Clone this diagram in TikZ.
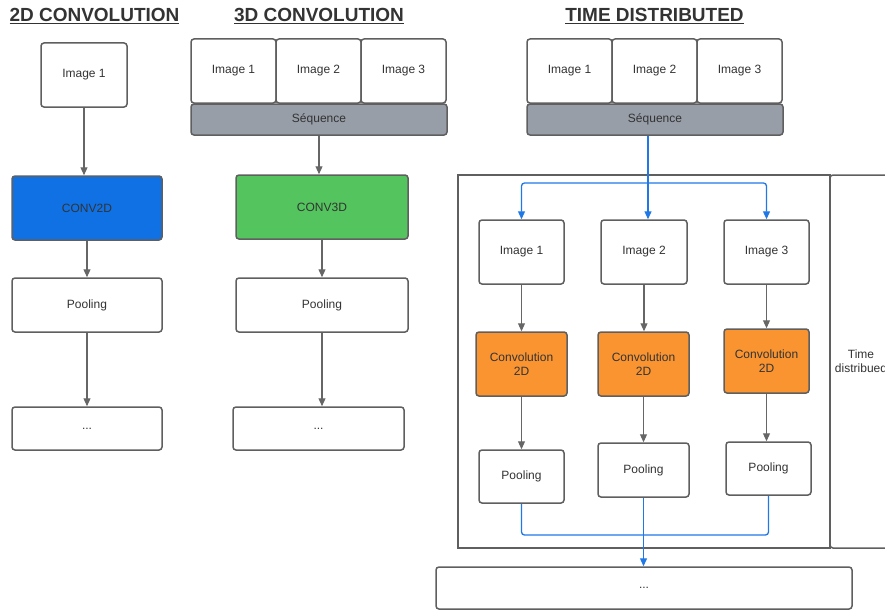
\documentclass[tikz,border=0pt]{standalone}
\usepackage{fontspec}
\setmainfont{Liberation Sans}
\usetikzlibrary{arrows.meta}
\definecolor{bordergray}{HTML}{5F5F5F}
\definecolor{txt}{HTML}{333333}
\definecolor{c2dblue}{HTML}{1071E5}
\definecolor{c3dgreen}{HTML}{54C45E}
\definecolor{convorange}{HTML}{F99431}
\definecolor{seqgray}{HTML}{979EA8}
\definecolor{linkblue}{HTML}{1F78E6}
\definecolor{arrowgray}{HTML}{666666}
\begin{document}
\begin{tikzpicture}[x=1pt,y=-1pt,
  box/.style={draw=bordergray, line width=1.5pt, rounded corners=3pt, fill=white,
    text=txt, font=\fontsize{12}{14}\selectfont, inner sep=0pt, align=center},
  ttl/.style={text=txt, font=\fontsize{19}{22}\selectfont\bfseries, inner sep=0pt},
  garrow/.style={draw=arrowgray, line width=1.1pt, -{Triangle[length=8pt,width=7pt]}},
  barrow/.style={draw=linkblue, line width=1.3pt, rounded corners=3pt, -{Triangle[length=8pt,width=7pt]}},
  bline/.style={draw=linkblue, line width=1.3pt, rounded corners=3pt}]
\useasboundingbox (0,0) rectangle (885,610);
\clip (0,0) rectangle (885,610);

% titles
\node[ttl] (t2dtitle) at (94.5,16) {\underline{2D CONVOLUTION}};
\node[ttl] (t3dtitle) at (319,16) {\underline{3D CONVOLUTION}};
\node[ttl] (tdtitle) at (654.5,16) {\underline{TIME DISTRIBUTED}};

% 2D column
\node[box, minimum width=86, minimum height=64] (i2d) at (84,75) {Image 1};
\node[box, fill=c2dblue, minimum width=150, minimum height=64] (c2d) at (87,208) {CONV2D};
\node[box, minimum width=150, minimum height=54] (p2d) at (87,305) {Pooling};
\node[box, minimum width=150, minimum height=43] (d2d) at (87,428.5) {...};
\draw[garrow] (i2d.south) -- (i2d.south |- c2d.north);
\draw[garrow] (c2d.south) -- (p2d.north);
\draw[garrow] (p2d.south) -- (d2d.north);

% 3D column
\node[box, minimum width=85, minimum height=64] (a1) at (233.5,71) {Image 1};
\node[box, minimum width=85, minimum height=64] (a2) at (318.5,71) {Image 2};
\node[box, minimum width=85, minimum height=64] (a3) at (403.5,71) {Image 3};
\node[box, fill=seqgray, minimum width=256, minimum height=31] (s3d) at (319,119.5) {Séquence};
\node[box, fill=c3dgreen, minimum width=172, minimum height=64] (c3d) at (322,207) {CONV3D};
\node[box, minimum width=172, minimum height=54] (p3d) at (322,305) {Pooling};
\node[box, minimum width=171, minimum height=43] (d3d) at (318.5,428.5) {...};
\draw[garrow] (s3d.south) -- (s3d.south |- c3d.north);
\draw[garrow] (c3d.south) -- (p3d.north);
\draw[garrow] (p3d.south) -- (p3d.south |- d3d.north);

% Time distributed
\node[box, minimum width=85, minimum height=64] (b1) at (569.5,71) {Image 1};
\node[box, minimum width=85, minimum height=64] (b2) at (654.5,71) {Image 2};
\node[box, minimum width=85, minimum height=64] (b3) at (739.5,71) {Image 3};
\node[box, fill=seqgray, minimum width=256, minimum height=31] (s4) at (655,119.5) {Séquence};

\node[box, rounded corners=0pt, fill=none, minimum width=372, minimum height=373] (frame) at (644,361.5) {};
\node[box, fill=white, minimum width=62, minimum height=373] (side) at (861,361.5) {Time\\distribued};

\node[box, minimum width=85, minimum height=64] (t1) at (521.5,252) {Image 1};
\node[box, minimum width=86, minimum height=64] (t2) at (644,252) {Image 2};
\node[box, minimum width=85, minimum height=64] (t3) at (766.5,252) {Image 3};
\node[box, fill=convorange, minimum width=91, minimum height=64] (k1) at (521.5,364) {Convolution\\2D};
\node[box, fill=convorange, minimum width=91, minimum height=64] (k2) at (643.5,364) {Convolution\\2D};
\node[box, fill=convorange, minimum width=85, minimum height=64] (k3) at (766.5,361) {Convolution\\2D};
\node[box, minimum width=85, minimum height=53] (q1) at (521.5,476.5) {Pooling};
\node[box, minimum width=91, minimum height=54] (q2) at (643.5,470) {Pooling};
\node[box, minimum width=85, minimum height=53] (q3) at (768.5,468.5) {Pooling};
\node[box, minimum width=416, minimum height=42] (d4) at (644,588) {...};

\draw[garrow] (t1.south) -- (k1.north);
\draw[garrow] (t2.south) -- (t2.south |- k2.north);
\draw[garrow] (t3.south) -- (k3.north);
\draw[garrow] (k1.south) -- (q1.north);
\draw[garrow] (k2.south) -- (q2.north);
\draw[garrow] (k3.south) -- (k3.south |- q3.north);

% blue split
\coordinate (split) at (648,183);
\draw[barrow] (split |- s4.south) -- (split |- t2.north);
\draw[barrow] (split) -| (t1.north);
\draw[barrow] (split) -| (t3.north);

% blue merge
\coordinate (merge) at (644,535);
\draw[bline] (q1.south) |- (merge) -| (q3.south);
\draw[barrow] (q2.south) -- (q2.south |- d4.north);
\end{tikzpicture}
\end{document}
